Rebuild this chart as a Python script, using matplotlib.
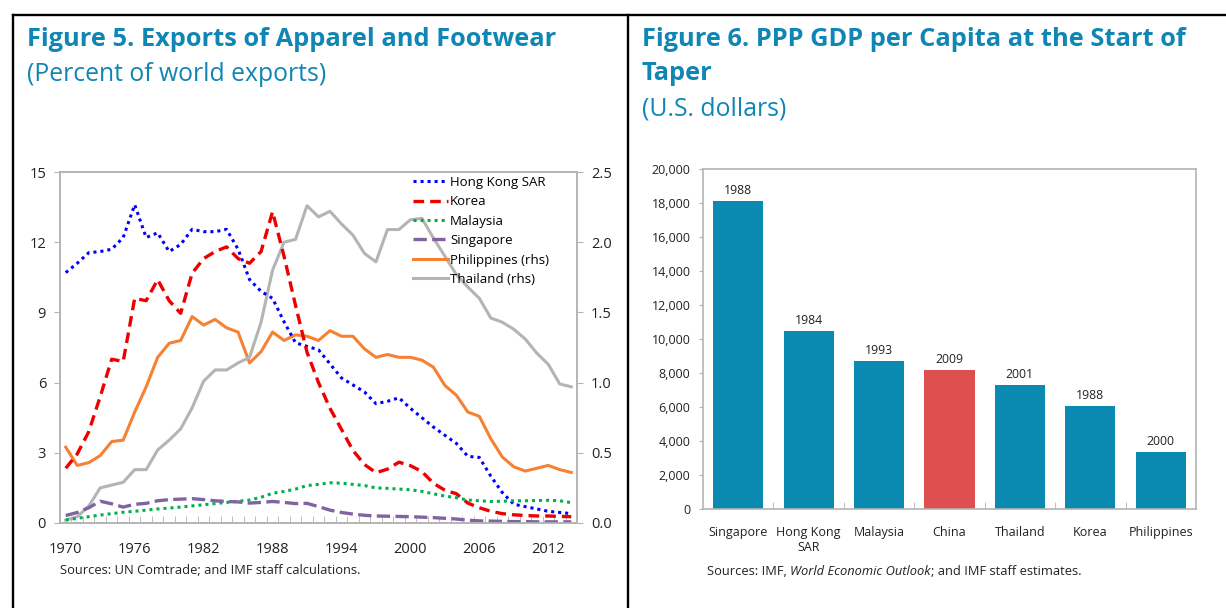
import numpy as np
import matplotlib
matplotlib.use('Agg')
import matplotlib.pyplot as plt
from matplotlib.lines import Line2D

plt.rcParams['font.family'] = ['Open Sans', 'DejaVu Sans']

# ---- Figure 5 data: percent of world exports ----
years = list(range(1970, 2015))
hong_kong = [10.7, 11.1, 11.55, 11.6, 11.7, 12.2, 13.6, 12.2, 12.4, 11.6,
             11.9, 12.55, 12.45, 12.45, 12.55, 11.7, 10.4, 9.9, 9.6, 8.6,
             7.7, 7.55, 7.4, 6.8, 6.2, 5.9, 5.6, 5.1, 5.2, 5.35,
             4.9, 4.5, 4.1, 3.75, 3.4, 2.85, 2.8, 2.0, 1.3, 0.8,
             0.7, 0.6, 0.5, 0.45, 0.4]
korea = [2.34, 2.95, 3.9, 5.4, 7.0, 6.9, 9.6, 9.5, 10.4, 9.5,
         8.96, 10.67, 11.3, 11.6, 11.8, 11.3, 11.1, 11.6, 13.3, 11.4,
         9.3, 7.3, 6.0, 4.9, 4.0, 3.1, 2.5, 2.15, 2.3, 2.6,
         2.45, 2.2, 1.7, 1.4, 1.25, 0.85, 0.65, 0.5, 0.4, 0.35,
         0.32, 0.3, 0.3, 0.28, 0.27]
malaysia = [0.13, 0.2, 0.27, 0.34, 0.4, 0.46, 0.5, 0.55, 0.6, 0.64,
            0.68, 0.73, 0.78, 0.83, 0.88, 0.93, 0.98, 1.1, 1.27, 1.35,
            1.45, 1.6, 1.65, 1.72, 1.7, 1.65, 1.6, 1.5, 1.48, 1.45,
            1.42, 1.35, 1.25, 1.15, 1.08, 0.98, 0.95, 0.92, 0.93, 0.95,
            0.95, 0.96, 0.97, 0.95, 0.87]
singapore = [0.32, 0.45, 0.65, 0.93, 0.82, 0.68, 0.8, 0.84, 0.95, 1.0,
             1.02, 1.04, 1.0, 0.95, 0.92, 0.9, 0.85, 0.88, 0.92, 0.88,
             0.83, 0.84, 0.7, 0.55, 0.45, 0.38, 0.33, 0.3, 0.29, 0.28,
             0.27, 0.25, 0.23, 0.2, 0.17, 0.12, 0.09, 0.08, 0.07, 0.06,
             0.06, 0.05, 0.05, 0.05, 0.05]
philippines = [0.54, 0.41, 0.43, 0.48, 0.58, 0.59, 0.79, 0.97, 1.18, 1.28,
               1.30, 1.47, 1.41, 1.45, 1.39, 1.36, 1.14, 1.22, 1.36, 1.30,
               1.34, 1.33, 1.30, 1.37, 1.33, 1.33, 1.24, 1.18, 1.20, 1.18,
               1.18, 1.16, 1.11, 0.98, 0.91, 0.79, 0.76, 0.60, 0.47, 0.40,
               0.37, 0.39, 0.41, 0.38, 0.36]
thailand = [0.02, 0.045, 0.12, 0.25, 0.27, 0.29, 0.38, 0.38, 0.52, 0.59,
            0.67, 0.82, 1.01, 1.09, 1.09, 1.14, 1.18, 1.43, 1.80, 2.00,
            2.02, 2.26, 2.18, 2.22, 2.13, 2.05, 1.92, 1.86, 2.09, 2.09,
            2.16, 2.17, 2.03, 1.90, 1.77, 1.68, 1.60, 1.46, 1.43, 1.38,
            1.31, 1.21, 1.13, 0.99, 0.97]
year_labels = [1970, 1976, 1982, 1988, 1994, 2000, 2006, 2012]

# ---- Figure 6 data: PPP GDP per capita (US$) ----
countries = ['Singapore', 'Hong Kong\nSAR', 'Malaysia', 'China', 'Thailand', 'Korea', 'Philippines']
gdp = [18100, 10450, 8710, 8180, 7300, 6030, 3370]
taper_year = ['1988', '1984', '1993', '2009', '2001', '1988', '2000']

title_col = '#0f86b4'
grey = '#b4b4b4'
txt = '#222222'

W, H = 1226, 608
fig = plt.figure(figsize=(W / 100, H / 100), dpi=100)

def px(x, y):
    return x / W, 1 - y / H

# panel border lines
for xs, ys in [((13, W), (15, 15)), ((13, 13), (15, H)), ((628, 628), (15, H))]:
    fig.add_artist(Line2D([x / W for x in xs], [1 - y / H for y in ys],
                          color='black', lw=1.7, transform=fig.transFigure))

# titles
fig.text(*px(27, 46), 'Figure 5. Exports of Apparel and Footwear', color=title_col,
         fontsize=18.3, fontweight='bold', va='baseline')
fig.text(*px(27, 81), '(Percent of world exports)', color=title_col, fontsize=17.8, va='baseline')
fig.text(*px(642, 46), 'Figure 6. PPP GDP per Capita at the Start of', color=title_col,
         fontsize=18.3, fontweight='bold', va='baseline')
fig.text(*px(642, 80), 'Taper', color=title_col, fontsize=18.3, fontweight='bold', va='baseline')
fig.text(*px(642, 115), '(U.S. dollars)', color=title_col, fontsize=17.8, va='baseline')

# ---------------- Figure 5 ----------------
ax = fig.add_axes([60 / W, 1 - 523 / H, 517 / W, 351 / H])
ax2 = ax.twinx()
h1, = ax.plot(years, hong_kong, color='#0000ff', lw=2.2, ls=(0, (1, 1.3)), label='Hong Kong SAR')
h2, = ax.plot(years, korea, color='#ee0000', lw=2.4, ls=(0, (3.2, 1.8)), label='Korea')
h3, = ax.plot(years, malaysia, color='#00b050', lw=2.2, ls=(0, (1, 1.3)), label='Malaysia')
h4, = ax.plot(years, singapore, color='#8064a2', lw=2.4, ls=(0, (4, 1.6)), label='Singapore')
h5, = ax2.plot(years, philippines, color='#f58232', lw=2.2, label='Philippines (rhs)')
h6, = ax2.plot(years, thailand, color='#b4b4b4', lw=2.2, label='Thailand (rhs)')
ax.set_zorder(ax2.get_zorder() + 1)
ax.patch.set_visible(False)

ax.set_xlim(1969.5, 2014.5)
ax.set_ylim(0, 15)
ax2.set_ylim(0, 2.5)
ax.set_yticks(np.arange(0, 16, 3))
ax2.set_yticks(np.arange(0, 2.6, 0.5))
ax2.set_yticklabels(['%.1f' % v for v in np.arange(0, 2.6, 0.5)])
ax.set_xticks(year_labels)
ax.set_xticks(np.arange(1969.5, 2015, 1), minor=True)
ax.tick_params(axis='x', which='major', length=0, pad=14, labelsize=10.5, labelcolor=txt)
ax.tick_params(axis='x', which='minor', direction='in', length=5, color=grey)
ax.tick_params(axis='y', direction='out', length=4, color=grey, labelsize=10.5, labelcolor=txt, pad=6)
ax2.tick_params(axis='y', direction='out', length=4, color=grey, labelsize=10.5, labelcolor=txt, pad=6)
for a in (ax, ax2):
    for s in a.spines.values():
        s.set_color(grey)
        s.set_linewidth(1.2)

ax.legend(handles=[h1, h2, h3, h4, h5, h6], loc='upper left', bbox_to_anchor=(0.668, 1.012),
          frameon=False, fontsize=9.5, handlelength=2.6, handletextpad=0.2,
          labelspacing=0.49, borderaxespad=0.2)

fig.text(*px(60, 574), 'Sources: UN Comtrade; and IMF staff calculations.', fontsize=9.3, color=txt, va='baseline')

# ---------------- Figure 6 ----------------
bx = fig.add_axes([703 / W, 1 - 509 / H, 493 / W, 340 / H])
xpos = np.arange(len(countries))
colors = ['#0a8ab0'] * len(countries)
colors[countries.index('China')] = '#de5050'
bars = bx.bar(xpos, gdp, width=0.71, color=colors)
bx.bar_label(bars, labels=taper_year, padding=3, fontsize=8.8, color=txt)
bx.set_xlim(-0.5, len(countries) - 0.5)
bx.set_ylim(0, 20000)
bx.set_yticks(np.arange(0, 20001, 2000))
bx.set_yticklabels(['{:,}'.format(v) for v in range(0, 20001, 2000)])
bx.set_xticks(xpos)
bx.set_xticklabels(countries)
bx.set_xticks(np.arange(0.5, len(countries) - 0.5, 1), minor=True)
bx.tick_params(axis='x', which='major', length=0, pad=12, labelsize=9, labelcolor=txt)
bx.tick_params(axis='x', which='minor', direction='in', length=5, color=grey)
bx.tick_params(axis='y', direction='out', length=3, color=grey, labelsize=9, labelcolor=txt, pad=6)
for s in bx.spines.values():
    s.set_color(grey)
    s.set_linewidth(1.2)

# source line with italic publication name
r = fig.canvas.get_renderer()
t = fig.text(*px(707, 575), 'Sources: IMF, ', fontsize=9.3, color=txt, va='baseline')
bb = t.get_window_extent(r)
ti = fig.text(bb.x1 / W, 1 - 575 / H, 'World Economic Outlook', fontsize=9.3, color=txt,
              style='italic', va='baseline')
bb2 = ti.get_window_extent(r)
fig.text(bb2.x1 / W, 1 - 575 / H, '; and IMF staff estimates.', fontsize=9.3, color=txt, va='baseline')

fig.savefig('out.png', dpi=100)
